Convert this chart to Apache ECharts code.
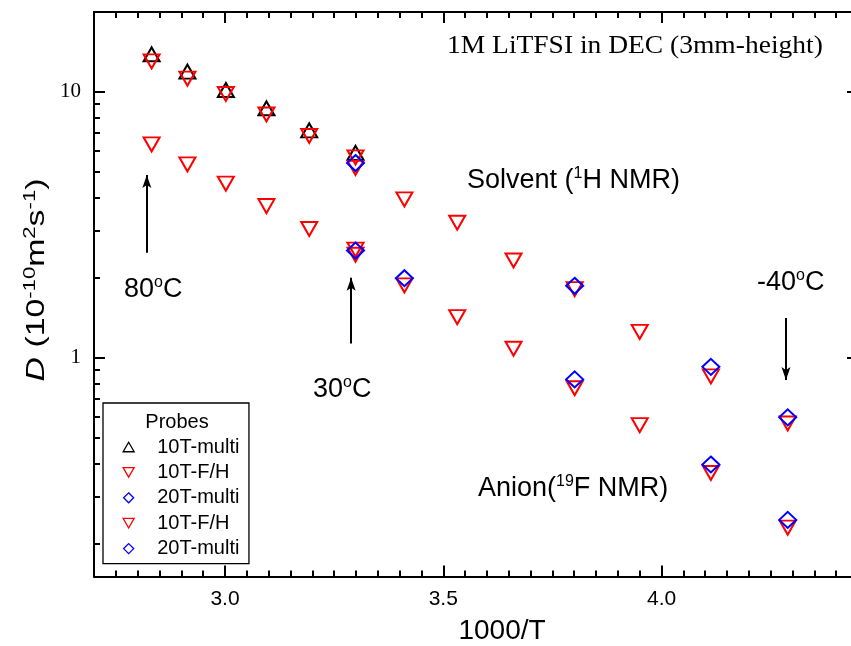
<!DOCTYPE html>
<html><head><meta charset="utf-8">
<script src="https://cdn.jsdelivr.net/npm/echarts@6/dist/echarts.min.js"></script>
<style>html,body{margin:0;padding:0;background:#fff}#c{width:851px;height:646px}</style>
</head><body><div id="c"></div>
<script>
// ---- data ----
const invT = [2.832, 2.914, 3.002, 3.095, 3.193, 3.299, 3.411, 3.532, 3.661, 3.801, 3.950, 4.113, 4.289]; // 1000/T, 80..-40 C
const solvent10TMulti = [13.86, 11.93, 10.17, 8.68, 7.17, 5.90, null, null, null, null, null, null, null];
const solvent10TFH    = [13.04, 11.22, 9.83, 8.23, 6.83, 5.67, 3.94, 3.22, 2.32, 1.81, 1.25, 0.850, 0.565];
const solvent10TFHRepeat = [null, null, null, null, null, 5.18, null, null, null, null, null, null, null];
const solvent20TMulti = [null, null, null, null, null, 5.40, null, null, null, 1.864, null, 0.923, 0.596];
const anion10TFH      = [6.35, 5.34, 4.52, 3.72, 3.05, 2.55, 1.87, 1.42, 1.08, 0.767, 0.557, 0.368, 0.229];
const anion10TFHRepeat = [null, null, null, null, null, 2.44, null, null, null, null, null, null, null];
const anion20TMulti   = [null, null, null, null, null, 2.53, 1.99, null, null, 0.828, null, 0.396, 0.245];
const seriesNames = ['10T-multi', '10T-F/H', '20T-multi', '10T-F/H ', '20T-multi '];
const xTickLabels = [3.0, 3.5, 4.0];
const yTickLabels = [1, 10];
const yMinorTicks = [0.2, 0.3, 0.4, 0.5, 0.6, 0.7, 0.8, 0.9, 2, 3, 4, 5, 6, 7, 8, 9];
const X_MIN = 2.7, X_MAX = 4.45, X_MINOR = 0.05;
const Y_MIN = 0.15, Y_MAX = 20;
// temperature arrows: [x, fromD, tipD]
const arrows = [[2.821, 2.48, 4.87], [3.289, 1.13, 2.00], [4.285, 1.41, 0.824]];

function pairs(vals) { return invT.map((x, i) => [x, vals[i]]).filter(p => p[1] != null); }

const SANS = 'Liberation Sans', SERIF = 'Liberation Serif';
const UP = 'path://M10,0L20,17.32L0,17.32Z';
const DOWN = 'path://M0,0L20,0L10,17.32Z';
const DIAM = 'path://M10,0L20,10L10,20L0,10Z';
const chart = echarts.init(document.getElementById('c'), null, {renderer: 'canvas'});
const grid = {left: 94, top: 12, width: 764, height: 564.5, containLabel: false, outerBoundsMode: 'none'};
const line = {show: true, onZero: false, lineStyle: {color: '#000', width: 2}};
const noLine = {show: false};
const tickStyle = {color: '#000', width: 2};
function xa(gi, pos, extra) {
  return Object.assign({type: 'value', gridIndex: gi, position: pos, min: X_MIN, max: X_MAX,
    splitLine: {show: false}, axisLabel: {show: false}}, extra);
}
function ya(gi, pos, extra) {
  return Object.assign({type: 'log', logBase: 10, gridIndex: gi, position: pos, min: Y_MIN, max: Y_MAX,
    splitLine: {show: false}, minorTick: {show: false}, axisLabel: {show: false}}, extra);
}
const mk = (name, symbol, size, color, data) => ({
  name, type: 'scatter', xAxisIndex: 0, yAxisIndex: 0, symbol, symbolSize: size, data,
  itemStyle: {color: 'rgba(0,0,0,0)', borderColor: color, borderWidth: 2, opacity: 1},
  emphasis: {disabled: true}, z: 3
});
const sup = {fontSize: 16, fontFamily: SANS, lineHeight: 16, verticalAlign: 'top', fill: '#000'};
const big = {fontSize: 27, fontFamily: SANS, lineHeight: 30, fill: '#000'};
function ann(text, x, y) {
  return {type: 'text', x, y, style: {text, rich: {a: big, s: sup}, align: 'left', verticalAlign: 'middle', fill: '#000'}};
}

const s1 = mk(seriesNames[0], UP, [16, 14], '#000', pairs(solvent10TMulti));
s1.markLine = {
  silent: true, symbol: ['none', 'none'], animation: false,
  label: {show: false}, lineStyle: {color: '#000', width: 2, type: 'solid', opacity: 1},
  emphasis: {disabled: true},
  data: arrows.map(a => [{coord: [a[0], a[1]]}, {coord: [a[0], a[2]]}])
};
const option = {
  animation: false,
  backgroundColor: '#fff',
  grid: [grid, Object.assign({}, grid)],
  xAxis: [
    xa(0, 'bottom', {interval: X_MINOR, axisLine: line, axisTick: {inside: true, length: 6, lineStyle: tickStyle},
      axisLabel: {show: true, customValues: xTickLabels, formatter: v => v.toFixed(1), margin: 12,
        fontFamily: SANS, fontSize: 21, color: '#000'}}),
    xa(0, 'top', {interval: X_MINOR, axisLine: line, axisTick: {inside: true, length: 6, lineStyle: tickStyle}}),
    xa(1, 'bottom', {axisLine: noLine, axisTick: {inside: true, length: 11, customValues: xTickLabels, lineStyle: tickStyle}}),
    xa(1, 'top', {axisLine: noLine, axisTick: {inside: true, length: 11, customValues: xTickLabels, lineStyle: tickStyle}})
  ],
  yAxis: [
    ya(0, 'left', {axisLine: line, axisTick: {inside: true, length: 11, customValues: yTickLabels, lineStyle: tickStyle},
      axisLabel: {show: true, customValues: yTickLabels, formatter: v => String(v), margin: 13,
        fontFamily: SERIF, fontSize: 21, color: '#000'}}),
    ya(0, 'right', {axisLine: line, axisTick: {inside: true, length: 11, customValues: yTickLabels, lineStyle: tickStyle}}),
    ya(1, 'left', {axisLine: noLine, axisTick: {inside: true, length: 6, customValues: yMinorTicks, lineStyle: tickStyle}}),
    ya(1, 'right', {axisLine: noLine, axisTick: {inside: true, length: 6, customValues: yMinorTicks, lineStyle: tickStyle}})
  ],
  legend: {
    orient: 'vertical', left: 103, top: 403, data: seriesNames, selectedMode: false,
    padding: [34, 4, 5, 19.5], itemGap: 5.4, itemWidth: 11, itemHeight: 10,
    borderColor: '#000', borderWidth: 1.3, backgroundColor: '#fff',
    itemStyle: {borderWidth: 1.3}, symbolKeepAspect: true,
    formatter: n => '{t|' + n + '}',
    textStyle: {fontFamily: SANS, fontSize: 20, color: '#000', lineHeight: 20,
      rich: {t: {fontFamily: SANS, fontSize: 20, lineHeight: 20, color: '#000', padding: [0, 0, 0, 18]}}}
  },
  series: [
    s1,
    mk(seriesNames[1], DOWN, [16, 14], '#f00', pairs(solvent10TFH).concat(pairs(solvent10TFHRepeat))),
    mk(seriesNames[2], DIAM, [17, 16], '#00f', pairs(solvent20TMulti)),
    mk(seriesNames[3], DOWN, [16, 14], '#f00', pairs(anion10TFH).concat(pairs(anion10TFHRepeat))),
    mk(seriesNames[4], DIAM, [17, 16], '#00f', pairs(anion20TMulti))
  ],
  graphic: [
    {type: 'text', x: 177, y: 422, z: 100, style: {text: 'Probes', font: '20px "Liberation Sans"', fill: '#000', align: 'center', verticalAlign: 'middle'}},
    {type: 'text', x: 447, y: 46, scaleX: 1.1, style: {text: '1M LiTFSI in DEC (3mm-height)', font: '25px "Liberation Serif"', fill: '#000', align: 'left', verticalAlign: 'middle'}},
    ann('{a|Solvent (}{s|1}{a|H NMR)}', 467, 181),
    ann('{a|Anion(}{s|19}{a|F NMR)}', 478, 489),
    ann('{a|80}{s|o}{a|C}', 124, 290),
    ann('{a|30}{s|o}{a|C}', 313, 390),
    ann('{a|-40}{s|o}{a|C}', 757, 283),
    {type: 'text', x: 502, y: 631, style: {text: '1000/T', font: '28px "Liberation Sans"', fill: '#000', align: 'center', verticalAlign: 'middle'}},
    {type: 'text', x: 37, y: 280, rotation: Math.PI / 2, scaleX: 1.3, style: {
      text: '{i|D}{a| (10}{s|-10}{a|m}{s|2}{a|s}{s|-1}{a|)}', align: 'center', verticalAlign: 'middle',
      rich: {i: {fontSize: 26, fontFamily: SANS, fontStyle: 'italic', lineHeight: 30, fill: '#000'},
             a: {fontSize: 26, fontFamily: SANS, lineHeight: 30, fill: '#000'},
             s: {fontSize: 17, fontFamily: SANS, lineHeight: 17, verticalAlign: 'top', fill: '#000'}}}}
  ]
};
chart.setOption(option);

// arrowheads placed through the chart's own coordinate system
const heads = arrows.map(a => {
  const tip = chart.convertToPixel({xAxisIndex: 0, yAxisIndex: 0}, [a[0], a[2]]);
  const from = chart.convertToPixel({xAxisIndex: 0, yAxisIndex: 0}, [a[0], a[1]]);
  const dir = tip[1] < from[1] ? 1 : -1; // 1: pointing up
  const L = 13, W = 4.5, N = 3;
  const pts = [[tip[0], tip[1]], [tip[0] + W, tip[1] + dir * L], [tip[0], tip[1] + dir * (L - N)], [tip[0] - W, tip[1] + dir * L]];
  return {type: 'polygon', z: 50, shape: {points: pts}, style: {fill: '#000'}};
});
chart.setOption({graphic: option.graphic.concat(heads)});
</script></body></html>
